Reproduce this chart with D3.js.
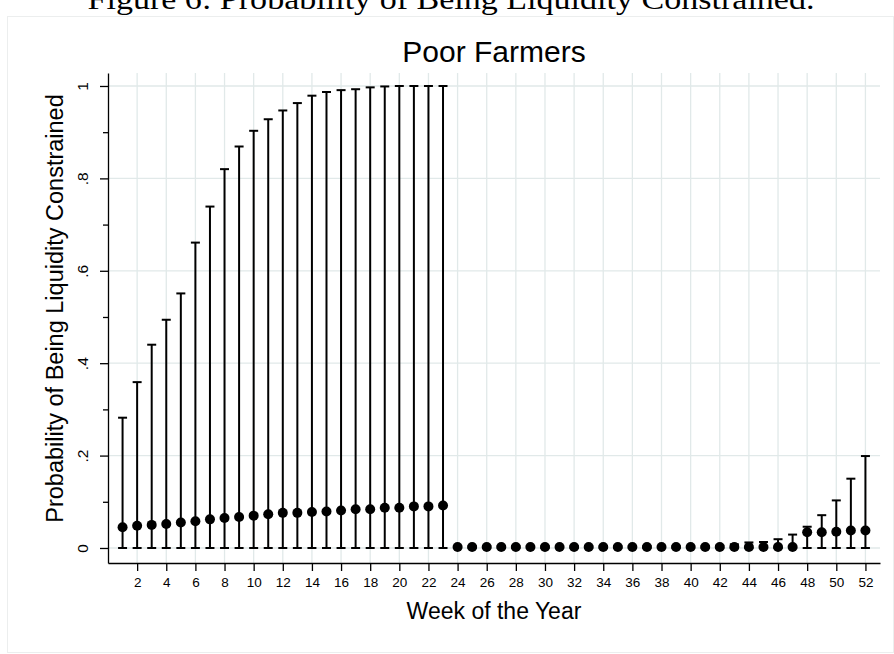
<!DOCTYPE html>
<html>
<head>
<meta charset="utf-8">
<script src="https://cdn.jsdelivr.net/npm/d3@7"></script>
<style>
  html, body { margin: 0; padding: 0; background: #fff; }
  svg { display: block; }
  text { font-family: "Liberation Sans", Arial, Helvetica, sans-serif; fill: #000; }
</style>
</head>
<body>
<svg id="chart" width="894" height="654"></svg>
<script>
// Week of the year
const weeks = d3.range(1, 53);

// Point estimate of the probability of being liquidity constrained
const estimate = [
  0.045, 0.048, 0.050, 0.052, 0.055, 0.058, 0.062, 0.065, 0.067, 0.070,
  0.073, 0.076, 0.076, 0.078, 0.079, 0.081, 0.084, 0.084, 0.087, 0.087,
  0.090, 0.090, 0.092,
  0.002, 0.002, 0.002, 0.002, 0.002, 0.002, 0.002, 0.002, 0.002, 0.002,
  0.002, 0.002, 0.002, 0.002, 0.002, 0.002, 0.002, 0.002, 0.002, 0.002,
  0.002, 0.002, 0.002, 0.002,
  0.034, 0.034, 0.035, 0.038, 0.038
];

// Lower end of the confidence interval
const lower = [
  0, 0, 0, 0, 0, 0, 0, 0, 0, 0,
  0, 0, 0, 0, 0, 0, 0, 0, 0, 0,
  0, 0, 0,
  0, 0, 0, 0, 0, 0, 0, 0, 0, 0,
  0, 0, 0, 0, 0, 0, 0, 0, 0, 0,
  0, 0, 0, 0,
  0, 0, 0, 0, 0
];

// Upper end of the confidence interval
const upper = [
  0.282, 0.359, 0.440, 0.494, 0.551, 0.661, 0.739, 0.820, 0.869, 0.903,
  0.928, 0.947, 0.963, 0.979, 0.987, 0.991, 0.993, 0.997, 0.999, 1.000,
  1.000, 1.000, 1.000,
  0.004, 0.004, 0.004, 0.004, 0.004, 0.004, 0.004, 0.004, 0.004, 0.004,
  0.004, 0.004, 0.004, 0.004, 0.004, 0.004, 0.004, 0.004, 0.005, 0.008,
  0.012, 0.013, 0.019, 0.029,
  0.046, 0.071, 0.103, 0.150, 0.199
];

const xTicks = d3.range(2, 53, 2);
const yTicks = [0, 0.2, 0.4, 0.6, 0.8, 1];
const yTickLabels = ["0", ".2", ".4", ".6", ".8", "1"];
const yMinorTicks = [0.1, 0.3, 0.5, 0.7, 0.9];

const caption = "Figure 6: Probability of Being Liquidity Constrained.";
const title = "Poor Farmers";
const xTitle = "Week of the Year";
const yTitle = "Probability of Being Liquidity Constrained";

const rows = weeks.map((w, i) => ({ week: w, est: estimate[i], lo: lower[i], hi: upper[i] }));

const svg = d3.select("#chart");

const x = d3.scaleLinear().domain([0, 53]).range([108, 880]);
const y = d3.scaleLinear().domain([-0.0325, 1.0281]).range([563, 73]);

// outer graph border
svg.append("rect")
  .attr("x", 7.5).attr("y", 16.5)
  .attr("width", 886).attr("height", 636)
  .attr("fill", "none")
  .attr("stroke", "#eceeee")
  .attr("stroke-width", 1);

// document caption above the graph
svg.append("text")
  .attr("x", 451).attr("y", 9)
  .attr("text-anchor", "middle")
  .attr("textLength", 727)
  .attr("lengthAdjust", "spacingAndGlyphs")
  .style("font-family", "'Liberation Serif', 'DejaVu Serif', serif")
  .style("font-size", "30px")
  .text(caption);

// grid
const grid = svg.append("g").attr("stroke", "#e1e9e9").attr("stroke-width", 1.3);
grid.selectAll("line.h").data(yTicks).join("line")
  .attr("class", "h")
  .attr("x1", x(0)).attr("x2", x(53))
  .attr("y1", d => y(d)).attr("y2", d => y(d));
grid.selectAll("line.v").data(xTicks).join("line")
  .attr("class", "v")
  .attr("x1", d => x(d)).attr("x2", d => x(d))
  .attr("y1", y.range()[1]).attr("y2", y.range()[0]);

// y axis
const yAxis = svg.append("g")
  .attr("transform", `translate(${x(0)},0)`)
  .call(d3.axisLeft(y).tickValues(yTicks).tickSize(8).tickSizeOuter(0).tickFormat((d, i) => yTickLabels[i]));
yAxis.select(".domain").attr("stroke", "#000").attr("stroke-width", 1.3);
yAxis.selectAll(".tick line").attr("stroke", "#000").attr("stroke-width", 1.3);
yAxis.selectAll(".tick text")
  .attr("x", null).attr("dy", null)
  .attr("transform", "translate(-20,0) rotate(-90)")
  .attr("text-anchor", "middle")
  .style("font-size", "15.5px");

const yMinor = svg.append("g")
  .attr("transform", `translate(${x(0)},0)`)
  .call(d3.axisLeft(y).tickValues(yMinorTicks).tickSize(5).tickFormat(""));
yMinor.select(".domain").remove();
yMinor.selectAll(".tick line").attr("stroke", "#000").attr("stroke-width", 1.3);

// x axis
const xAxis = svg.append("g")
  .attr("transform", `translate(0,${y.range()[0]})`)
  .call(d3.axisBottom(x).tickValues(xTicks).tickSize(8).tickSizeOuter(0).tickFormat(d3.format("d")));
xAxis.select(".domain").attr("stroke", "#000").attr("stroke-width", 1.3);
xAxis.selectAll(".tick line").attr("stroke", "#000").attr("stroke-width", 1.3);
xAxis.selectAll(".tick text")
  .attr("y", 24).attr("dy", null)
  .style("font-size", "13.5px");

// confidence intervals
const bars = svg.append("g").attr("stroke", "#000").attr("stroke-width", 2);
bars.selectAll("line.ci").data(rows).join("line")
  .attr("class", "ci")
  .attr("x1", d => x(d.week)).attr("x2", d => x(d.week))
  .attr("y1", d => y(d.lo)).attr("y2", d => y(d.hi));
bars.selectAll("line.capHi").data(rows).join("line")
  .attr("class", "capHi")
  .attr("x1", d => x(d.week) - 4.5).attr("x2", d => x(d.week) + 4.5)
  .attr("y1", d => y(d.hi)).attr("y2", d => y(d.hi));
bars.selectAll("line.capLo").data(rows).join("line")
  .attr("class", "capLo")
  .attr("x1", d => x(d.week) - 4.5).attr("x2", d => x(d.week) + 4.5)
  .attr("y1", d => y(d.lo)).attr("y2", d => y(d.lo));

// point estimates
svg.append("g").selectAll("circle").data(rows).join("circle")
  .attr("cx", d => x(d.week))
  .attr("cy", d => y(d.est))
  .attr("r", 5)
  .attr("fill", "#000");

// titles
svg.append("text")
  .attr("x", 494).attr("y", 62)
  .attr("text-anchor", "middle")
  .style("font-size", "30px")
  .text(title);

svg.append("text")
  .attr("x", 494).attr("y", 619)
  .attr("text-anchor", "middle")
  .style("font-size", "23px")
  .text(xTitle);

svg.append("text")
  .attr("transform", "translate(63,308.5) rotate(-90)")
  .attr("text-anchor", "middle")
  .style("font-size", "23.5px")
  .text(yTitle);
</script>
</body>
</html>
